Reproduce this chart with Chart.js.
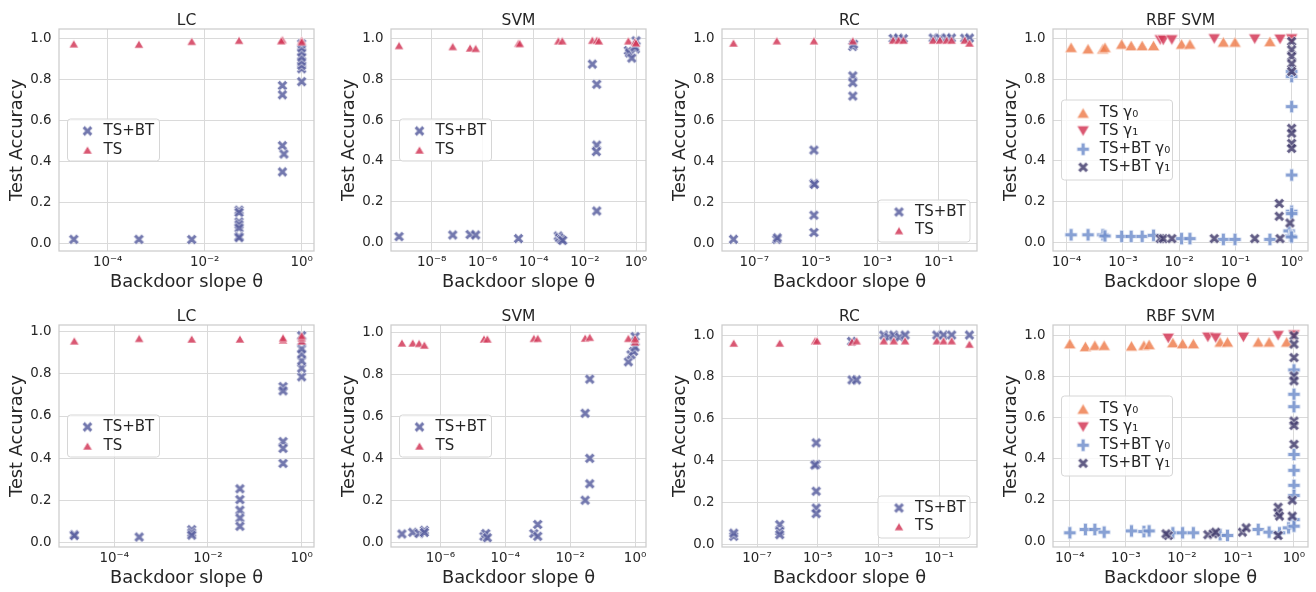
<!DOCTYPE html>
<html>
<head>
<meta charset="utf-8">
<script src="https://cdn.jsdelivr.net/npm/chart.js@4.4.1/dist/chart.umd.min.js"></script>
<style>
html, body { margin: 0; padding: 0; background: #fff; overflow: hidden; }
body { width: 1316px; height: 592px; position: relative; }
canvas { position: absolute; }
</style>
</head>
<body>
<script>
// tick values and labels
const yTicks = [0, 0.2, 0.4, 0.6, 0.8, 1.0];
const yTickLabels = ['0.0', '0.2', '0.4', '0.6', '0.8', '1.0'];
const lcTicks = [1e-4, 1e-2, 1];
const lcTickLabels = ['10⁻⁴', '10⁻²', '10⁰'];
const svmTicksA = [1e-8, 1e-6, 1e-4, 1e-2, 1];
const svmTickLabelsA = ['10⁻⁸', '10⁻⁶', '10⁻⁴', '10⁻²', '10⁰'];
const svmTicksB = [1e-6, 1e-4, 1e-2, 1];
const svmTickLabelsB = ['10⁻⁶', '10⁻⁴', '10⁻²', '10⁰'];
const rcTicks = [1e-7, 1e-5, 1e-3, 1e-1];
const rcTickLabels = ['10⁻⁷', '10⁻⁵', '10⁻³', '10⁻¹'];
const rbfTicks = [1e-4, 1e-3, 1e-2, 1e-1, 1];
const rbfTickLabels = ['10⁻⁴', '10⁻³', '10⁻²', '10⁻¹', '10⁰'];

// top row, [theta, accuracy]
const lcA_bt = [[2.0e-5,0.021],[4.4e-4,0.021],[5.4e-3,0.020],[0.051,0.163],[0.051,0.152],[0.051,0.106],[0.051,0.092],[0.051,0.076],[0.051,0.035],[0.051,0.029],[0.4,0.771],[0.4,0.726],[0.4,0.478],[0.43,0.437],[0.4,0.350],[1.0,0.79],[1.0,0.853],[1.0,0.87],[1.0,0.89],[1.0,0.91],[1.0,0.935],[1.0,0.955],[1.0,0.975]];
const lcA_ts = [[2.0e-5,0.975],[4.4e-4,0.973],[5.4e-3,0.987],[0.051,0.992],[0.4,0.995],[0.38,0.99],[1.0,0.992],[1.0,0.985]];

const svmA_bt = [[5.3e-10,0.027],[6.7e-8,0.035],[3.2e-7,0.037],[5.3e-7,0.035],[2.5e-5,0.017],[9.0e-4,0.03],[1.0e-3,0.02],[1.2e-3,0.012],[1.35e-3,0.008],[0.0195,0.875],[0.029,0.776],[0.029,0.477],[0.028,0.445],[0.029,0.153],[0.5,0.942],[0.55,0.93],[0.68,0.905],[0.95,0.95],[0.9,0.96],[1.0,0.99]];
const svmA_ts = [[5.3e-10,0.967],[6.7e-8,0.962],[3.2e-7,0.955],[5.3e-7,0.953],[2.5e-5,0.978],[2.8e-5,0.977],[9.1e-4,0.99],[1.3e-3,0.99],[0.0195,0.993],[0.029,0.993],[0.035,0.99],[0.5,0.99],[0.91,0.985],[1.0,0.98]];

const rcA_bt = [[2.1e-8,0.021],[5.4e-7,0.02],[5.6e-7,0.028],[8.7e-6,0.455],[8.7e-6,0.293],[9.0e-6,0.288],[8.7e-6,0.138],[8.7e-6,0.054],[1.6e-4,0.816],[1.6e-4,0.783],[1.6e-4,0.718],[1.6e-4,0.959],[1.7e-4,0.97],[3.3e-3,0.998],[4.9e-3,1.0],[7.1e-3,0.997],[0.066,1.0],[0.11,0.999],[0.18,1.0],[0.26,1.0],[0.7,0.999],[1.0,1.0]];
const rcA_ts = [[2.1e-8,0.976],[5.4e-7,0.987],[8.7e-6,0.987],[1.6e-4,0.987],[3.3e-3,0.99],[4.9e-3,0.99],[7.1e-3,0.99],[0.066,0.99],[0.11,0.99],[0.18,0.99],[0.26,0.99],[0.7,0.99],[1.0,0.976]];

const rbfA_ts0 = [[1.2e-4,0.959],[2.4e-4,0.952],[4.4e-4,0.952],[4.8e-4,0.959],[9.5e-4,0.975],[1.4e-3,0.968],[2.2e-3,0.968],[3.5e-3,0.968],[0.011,0.975],[0.0155,0.975],[0.061,0.985],[0.098,0.985],[0.41,0.988]];
const rbfA_ts1 = [[4.6e-3,0.995],[5.2e-3,0.993],[7.4e-3,0.995],[0.042,1.0],[0.22,0.999],[0.62,0.998],[1.0,1.0]];
const rbfA_bt0 = [[1.2e-4,0.036],[2.4e-4,0.036],[4.4e-4,0.036],[4.8e-4,0.03],[9.5e-4,0.028],[1.4e-3,0.028],[2.2e-3,0.028],[3.5e-3,0.033],[0.011,0.017],[0.0155,0.017],[0.061,0.013],[0.098,0.013],[0.41,0.013],[0.9,0.055],[0.95,0.03],[1.0,0.815],[1.0,0.84],[1.0,0.667],[1.0,0.33],[1.0,0.152],[1.0,0.14],[1.0,0.025]];
const rbfA_bt1 = [[4.6e-3,0.017],[5.2e-3,0.017],[7.4e-3,0.017],[0.042,0.017],[0.22,0.017],[0.62,0.017],[0.6,0.19],[0.6,0.127],[0.93,0.094],[1.0,0.988],[1.0,0.947],[1.0,0.914],[1.0,0.878],[1.0,0.84],[1.0,0.56],[1.0,0.536],[1.0,0.486],[1.0,0.461]];

// bottom row
const lcB_bt = [[1.4e-5,0.04],[1.4e-5,0.035],[3.4e-4,0.028],[4.5e-3,0.063],[4.5e-3,0.048],[4.5e-3,0.037],[0.048,0.256],[0.048,0.205],[0.048,0.155],[0.048,0.118],[0.048,0.079],[0.4,0.739],[0.4,0.719],[0.4,0.479],[0.4,0.447],[0.4,0.376],[1.0,0.785],[1.0,0.826],[1.0,0.861],[1.0,0.893],[1.0,0.917],[1.0,0.95],[1.0,0.98]];
const lcB_ts = [[1.4e-5,0.955],[3.4e-4,0.967],[4.5e-3,0.964],[0.048,0.964],[0.4,0.96],[0.4,0.97],[1.0,0.955],[1.0,0.97],[1.0,0.98]];

const svmB_bt = [[6.5e-8,0.043],[1.4e-7,0.051],[2.2e-7,0.045],[3.2e-7,0.06],[3.2e-7,0.05],[2.2e-5,0.032],[2.5e-5,0.045],[2.8e-5,0.025],[7.6e-4,0.045],[1.0e-3,0.088],[1.0e-3,0.032],[0.029,0.203],[0.029,0.616],[0.04,0.778],[0.04,0.402],[0.04,0.281],[0.62,0.86],[0.75,0.894],[0.9,0.91],[1.0,0.93],[1.0,0.98]];
const svmB_ts = [[6.5e-8,0.95],[1.4e-7,0.95],[2.2e-7,0.948],[3.2e-7,0.94],[2.2e-5,0.969],[2.8e-5,0.969],[7.6e-4,0.972],[1.0e-3,0.972],[0.029,0.973],[0.04,0.977],[0.62,0.972],[1.0,0.955],[1.0,0.97]];

const rcB_bt = [[1.7e-8,0.04],[1.7e-8,0.055],[5.6e-7,0.096],[5.6e-7,0.064],[5.6e-7,0.048],[8.9e-6,0.486],[8.9e-6,0.383],[8.0e-6,0.38],[8.9e-6,0.255],[8.9e-6,0.175],[8.9e-6,0.148],[1.35e-4,0.786],[1.9e-4,0.786],[1.3e-4,0.97],[1.5e-3,1.0],[2.2e-3,0.99],[3.2e-3,1.0],[5e-3,0.99],[7.6e-3,1.0],[0.084,1.0],[0.14,1.0],[0.26,1.0],[1.0,1.0]];
const rcB_ts = [[1.7e-8,0.962],[5.6e-7,0.962],[8.2e-6,0.973],[9.5e-6,0.973],[1.35e-4,0.968],[1.9e-4,0.973],[1.5e-3,0.973],[3.2e-3,0.973],[7.6e-3,0.973],[0.084,0.973],[0.14,0.973],[0.26,0.973],[1.0,0.957]];

const rbfB_ts0 = [[1.0e-4,0.959],[1.9e-4,0.945],[2.8e-4,0.951],[4.1e-4,0.951],[1.26e-3,0.948],[2.1e-3,0.951],[2.6e-3,0.955],[6.9e-3,0.964],[0.0103,0.959],[0.016,0.959],[0.048,0.967],[0.065,0.967],[0.23,0.967],[0.36,0.967],[0.74,0.967]];
const rbfB_ts1 = [[5.7e-3,0.984],[0.029,0.989],[0.04,0.986],[0.125,0.989],[0.52,0.997],[1.0,1.0]];
const rbfB_bt0 = [[1.0e-4,0.041],[1.9e-4,0.057],[2.8e-4,0.057],[4.1e-4,0.044],[1.26e-3,0.05],[2.1e-3,0.047],[2.6e-3,0.05],[6.9e-3,0.041],[0.0103,0.041],[0.016,0.041],[0.048,0.032],[0.065,0.028],[0.23,0.057],[0.36,0.044],[0.55,0.041],[0.8,0.065],[1.0,0.831],[1.0,0.713],[1.0,0.653],[1.0,0.421],[1.0,0.344],[1.0,0.271],[1.0,0.222],[1.0,0.105],[1.0,0.073]];
const rbfB_bt1 = [[5.7e-3,0.028],[5.2e-3,0.036],[0.029,0.032],[0.036,0.036],[0.04,0.044],[0.12,0.044],[0.14,0.065],[0.52,0.028],[0.52,0.165],[0.52,0.138],[0.55,0.122],[0.93,0.199],[0.93,0.122],[1.0,0.997],[1.0,0.956],[1.0,0.891],[1.0,0.802],[1.0,0.778],[1.0,0.583],[1.0,0.562],[1.0,0.47]];

const INK = '#262626';
Chart.defaults.font.family = "'DejaVu Sans', sans-serif";
Chart.defaults.color = INK;

// seaborn-like filled markers with a white edge
function makeSprite(shape, size, color) {
  const s = Math.ceil(size) + 4;
  const c = document.createElement('canvas');
  c.width = s; c.height = s;
  const g = c.getContext('2d');
  g.translate(s / 2, s / 2);
  const r = size / 2;
  let pts;
  if (shape === 'tri') {
    pts = [[0, -0.85 * r], [r, 0.85 * r], [-r, 0.85 * r]];
  } else if (shape === 'triDown') {
    pts = [[0, 0.85 * r], [r, -0.85 * r], [-r, -0.85 * r]];
  } else {
    const w = size * (shape === 'plus' ? 0.16 : 0.17);
    const e = shape === 'plus' ? r : size / Math.SQRT2 - w;
    const base = [[-w,-e],[w,-e],[w,-w],[e,-w],[e,w],[w,w],[w,e],[-w,e],[-w,w],[-e,w],[-e,-w],[-w,-w]];
    const a = shape === 'x' ? Math.PI / 4 : 0;
    pts = base.map(([x, y]) => [x * Math.cos(a) - y * Math.sin(a), x * Math.sin(a) + y * Math.cos(a)]);
  }
  g.globalAlpha = 0.85;
  g.beginPath();
  pts.forEach(([x, y], i) => i ? g.lineTo(x, y) : g.moveTo(x, y));
  g.closePath();
  g.fillStyle = color;
  g.fill();
  g.strokeStyle = '#ffffff';
  g.lineWidth = 0.8;
  g.stroke();
  return c;
}

const xMark = makeSprite('x', 10.5, '#5b60a0');
const triMark = makeSprite('tri', 9.5, '#d23a59');
const tri0Mark = makeSprite('tri', 12.5, '#ee8051');
const tri1Mark = makeSprite('triDown', 12.5, '#d43a58');
const plus0Mark = makeSprite('plus', 12.5, '#7390cc');
const x1Mark = makeSprite('x', 10.5, '#453f70');

const panelTitle = {
  id: 'panelTitle',
  afterDraw(chart, args, opts) {
    const {ctx, chartArea: a} = chart;
    ctx.save();
    ctx.font = "15.5px 'DejaVu Sans'";
    ctx.fillStyle = INK;
    ctx.textAlign = 'center';
    ctx.textBaseline = 'alphabetic';
    ctx.fillText(opts.text, (a.left + a.right) / 2, a.top - 4.5);
    ctx.restore();
  }
};

const frame = {
  id: 'frame',
  afterDatasetsDraw(chart) {
    const {ctx, chartArea: a} = chart;
    ctx.save();
    ctx.strokeStyle = '#cccccc';
    ctx.lineWidth = 1.25;
    ctx.strokeRect(a.left, a.top, a.width, a.height);
    ctx.restore();
  }
};

const boxLegend = {
  id: 'boxLegend',
  afterDraw(chart, args, o) {
    const {ctx, chartArea: a} = chart;
    const x0 = o.loc === 'lowerRight' ? a.right - 7 - o.w : a.left + 8.5;
    const y0 = o.loc === 'lowerRight' ? a.bottom - 9 - o.h : (a.top + a.bottom) / 2 - o.h / 2;
    ctx.save();
    ctx.beginPath();
    ctx.roundRect(x0, y0, o.w, o.h, 3);
    ctx.fillStyle = 'rgba(255,255,255,0.8)';
    ctx.fill();
    ctx.strokeStyle = '#d6d6d6';
    ctx.lineWidth = 1;
    ctx.stroke();
    ctx.font = "15px 'DejaVu Sans'";
    ctx.fillStyle = INK;
    ctx.textBaseline = 'middle';
    chart.data.datasets.forEach((ds, k) => {
      const y = y0 + o.padTop + k * o.rowH;
      const m = ds.pointStyle;
      ctx.drawImage(m, x0 + o.mx - m.width / 2, y - m.height / 2);
      ctx.fillText(ds.label, x0 + o.tx, y);
    });
    ctx.restore();
  }
};

const legend2L = {loc: 'centerLeft', w: 92, h: 42, padTop: 12, rowH: 19, mx: 20, tx: 36};
const legend2R = {loc: 'lowerRight', w: 92, h: 42, padTop: 12, rowH: 18.6, mx: 21, tx: 37};
const legend4L = {loc: 'centerLeft', w: 111, h: 80, padTop: 13, rowH: 18.1, mx: 21.6, tx: 38.3};

function twoSeries(bt, ts) {
  return [
    {label: 'TS+BT', data: bt, style: xMark, order: 1},
    {label: 'TS', data: ts, style: triMark, order: 0}
  ];
}
function fourSeries(ts0, ts1, bt0, bt1) {
  return [
    {label: 'TS γ₀', data: ts0, style: tri0Mark, order: 3},
    {label: 'TS γ₁', data: ts1, style: tri1Mark, order: 2},
    {label: 'TS+BT γ₀', data: bt0, style: plus0Mark, order: 1},
    {label: 'TS+BT γ₁', data: bt1, style: x1Mark, order: 0}
  ];
}

const panels = [
  {title: 'LC', left: 59, row: 0, xr: [-5.004, 0.254], yr: [-0.036, 1.047], ticks: lcTicks, labels: lcTickLabels, legend: legend2L, series: twoSeries(lcA_bt, lcA_ts)},
  {title: 'SVM', left: 391, row: 0, xr: [-9.59, 0.39], yr: [-0.044, 1.048], ticks: svmTicksA, labels: svmTickLabelsA, legend: legend2L, series: twoSeries(svmA_bt, svmA_ts)},
  {title: 'RC', left: 722, row: 0, xr: [-8.05, 0.245], yr: [-0.036, 1.044], ticks: rcTicks, labels: rcTickLabels, legend: legend2R, series: twoSeries(rcA_bt, rcA_ts)},
  {title: 'RBF SVM', left: 1053, row: 0, xr: [-4.243, 0.29], yr: [-0.044, 1.049], ticks: rbfTicks, labels: rbfTickLabels, legend: legend4L, series: fourSeries(rbfA_ts0, rbfA_ts1, rbfA_bt0, rbfA_bt1)},
  {title: 'LC', left: 59, row: 1, xr: [-5.18, 0.263], yr: [-0.019, 1.03], ticks: lcTicks, labels: lcTickLabels, legend: legend2L, series: twoSeries(lcB_bt, lcB_ts)},
  {title: 'SVM', left: 391, row: 1, xr: [-7.485, 0.337], yr: [-0.019, 1.035], ticks: svmTicksB, labels: svmTickLabelsB, legend: legend2L, series: twoSeries(svmB_bt, svmB_ts)},
  {title: 'RC', left: 722, row: 1, xr: [-8.14, 0.25], yr: [-0.011, 1.048], ticks: rcTicks, labels: rcTickLabels, legend: legend2R, series: twoSeries(rcB_bt, rcB_ts)},
  {title: 'RBF SVM', left: 1053, row: 1, xr: [-4.30, 0.25], yr: [-0.028, 1.049], ticks: rbfTicks, labels: rbfTickLabels, legend: legend4L, series: fourSeries(rbfB_ts0, rbfB_ts1, rbfB_bt0, rbfB_bt1)}
];

panels.forEach(p => {
  const cv = document.createElement('canvas');
  cv.width = 329;
  cv.height = 297;
  cv.style.left = (p.left - 60) + 'px';
  cv.style.top = (p.row * 296) + 'px';
  document.body.appendChild(cv);

  new Chart(cv, {
    type: 'scatter',
    data: {
      datasets: p.series.map(s => ({
        label: s.label,
        data: s.data.map(([x, y]) => ({x, y})),
        pointStyle: s.style,
        pointRadius: 5,
        pointHoverRadius: 5,
        order: s.order
      }))
    },
    options: {
      responsive: false,
      animation: false,
      events: [],
      devicePixelRatio: 1,
      layout: {padding: {top: 29, right: 14, left: 0, bottom: 0}},
      plugins: {
        legend: {display: false},
        tooltip: {enabled: false},
        panelTitle: {text: p.title},
        boxLegend: p.legend
      },
      scales: {
        x: {
          type: 'logarithmic',
          min: Math.pow(10, p.xr[0]),
          max: Math.pow(10, p.xr[1]),
          afterBuildTicks: s => { s.ticks = p.ticks.map(v => ({value: v})); },
          afterFit: s => { s.height = 46; },
          ticks: {autoSkip: false, maxRotation: 0, padding: 3.5, font: {size: 13.4}, color: INK,
                  callback: (v, k) => p.labels[k]},
          grid: {color: '#dadada', lineWidth: 1, drawTicks: false},
          border: {display: false},
          title: {display: true, text: 'Backdoor slope θ', font: {size: 17.8}, color: INK, padding: {top: 0, bottom: 4.3}}
        },
        y: {
          type: 'linear',
          min: p.yr[0],
          max: p.yr[1],
          afterBuildTicks: s => { s.ticks = yTicks.map(v => ({value: v})); },
          afterFit: s => { s.width = 60; },
          ticks: {autoSkip: false, padding: 7.5, font: {size: 13.4}, color: INK,
                  callback: (v, k) => yTickLabels[k]},
          grid: {color: '#dadada', lineWidth: 1, drawTicks: false},
          border: {display: false},
          title: {display: true, text: 'Test Accuracy', font: {size: 17.8}, color: INK, padding: {top: 7.3, bottom: 0}}
        }
      }
    },
    plugins: [panelTitle, frame, boxLegend]
  });
});
</script>
</body>
</html>
